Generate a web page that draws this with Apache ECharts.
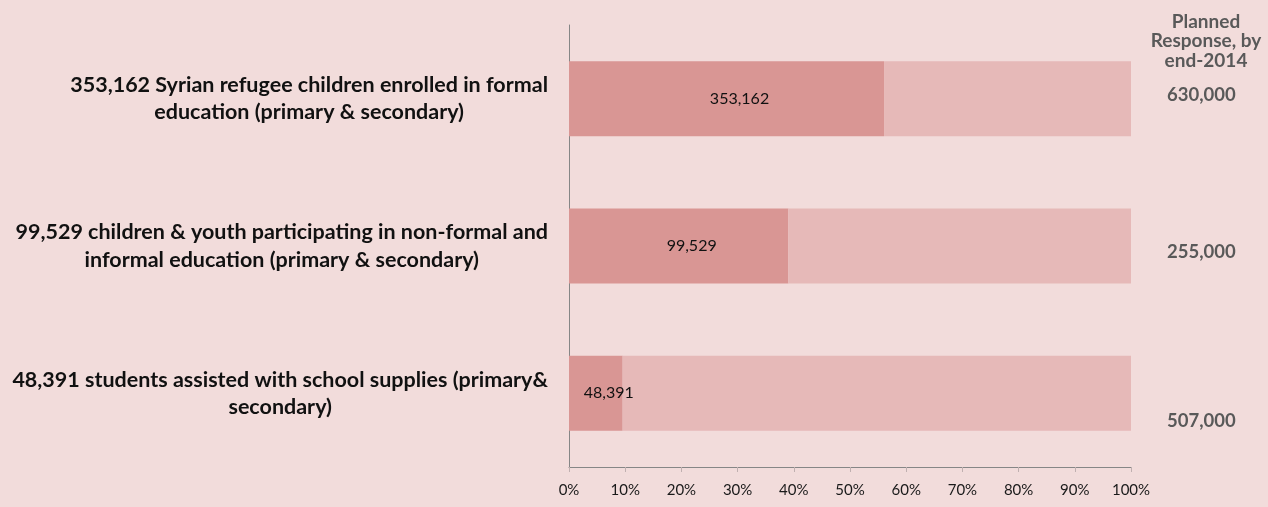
<!DOCTYPE html>
<html>
<head>
<meta charset="utf-8">
<script src="https://cdn.jsdelivr.net/npm/echarts@6/dist/echarts.min.js"></script>
<style>
  html, body { margin: 0; padding: 0; background: #f2dcdb; }
  #chart { width: 1268px; height: 507px; }
</style>
</head>
<body>
<div id="chart"></div>
<script>
// values
var categories = [
  "353,162 Syrian refugee children enrolled in formal\neducation (primary & secondary)",
  "99,529 children & youth participating in non-formal and\ninformal education (primary & secondary)",
  "48,391 students assisted with school supplies (primary&\nsecondary)"
];
var reached = [353162, 99529, 48391];
var planned = [630000, 255000, 507000];
var tickLabels = ["0%", "10%", "20%", "30%", "40%", "50%", "60%", "70%", "80%", "90%", "100%"];
var plannedOffsetY = [-4, 6, 28];

var FONT = "Lato, 'Open Sans', sans-serif";

function fmt(n) {
  return n.toLocaleString("en-US");
}

var donePct = reached.map(function (v, i) { return v / planned[i] * 100; });
var restPct = donePct.map(function (p) { return 100 - p; });

var chart = echarts.init(document.getElementById("chart"));
chart.setOption({
  backgroundColor: "#f2dcdb",
  animation: false,
  title: {
    text: "Planned\nResponse, by\nend-2014",
    left: 1201,
    top: 7,
    textAlign: "center",
    textStyle: {
      fontFamily: FONT,
      fontSize: 19,
      fontWeight: "bold",
      color: "#595959",
      lineHeight: 19.5
    }
  },
  grid: { left: 569, right: 137, top: 25, bottom: 40 },
  xAxis: {
    type: "value",
    min: 0,
    max: 100,
    interval: 10,
    splitLine: { show: false },
    axisLine: { show: true, lineStyle: { color: "#868686", width: 1 } },
    axisTick: { show: true, length: 5, lineStyle: { color: "#c0b0b0" } },
    axisLabel: {
      margin: 16,
      fontFamily: FONT,
      fontSize: 15,
      color: "#1a1a1a",
      formatter: function (v) { return tickLabels[Math.round(v / 10)]; }
    }
  },
  yAxis: {
    type: "category",
    inverse: true,
    data: categories,
    axisLine: { show: true, lineStyle: { color: "#868686", width: 1 } },
    axisTick: { show: false },
    axisLabel: {
      margin: 21,
      formatter: function (v) {
        return v.split("\n").map(function (s) { return "{c|" + s + "}"; }).join("\n");
      },
      rich: {
        c: {
          align: "center",
          fontFamily: FONT,
          fontSize: 21.5,
          fontWeight: "bold",
          color: "#111",
          lineHeight: 27.5
        }
      }
    }
  },
  series: [
    {
      name: "Reached",
      type: "bar",
      stack: "all",
      barWidth: 75,
      itemStyle: { color: "#d99694" },
      label: {
        show: true,
        position: "inside",
        offset: [13, 0],
        fontFamily: FONT,
        fontSize: 16,
        color: "#111",
        formatter: function (p) { return fmt(reached[p.dataIndex]); }
      },
      data: donePct
    },
    {
      name: "Planned",
      type: "bar",
      stack: "all",
      barWidth: 75,
      itemStyle: { color: "#e6b9b8" },
      label: {
        show: true,
        position: "right",
        distance: 36,
        fontFamily: FONT,
        fontSize: 18.5,
        fontWeight: "bold",
        color: "#595959",
        formatter: function (p) { return fmt(planned[p.dataIndex]); }
      },
      data: restPct.map(function (v, i) {
        return { value: v, label: { offset: [0, plannedOffsetY[i]] } };
      })
    }
  ]
});
</script>
</body>
</html>
